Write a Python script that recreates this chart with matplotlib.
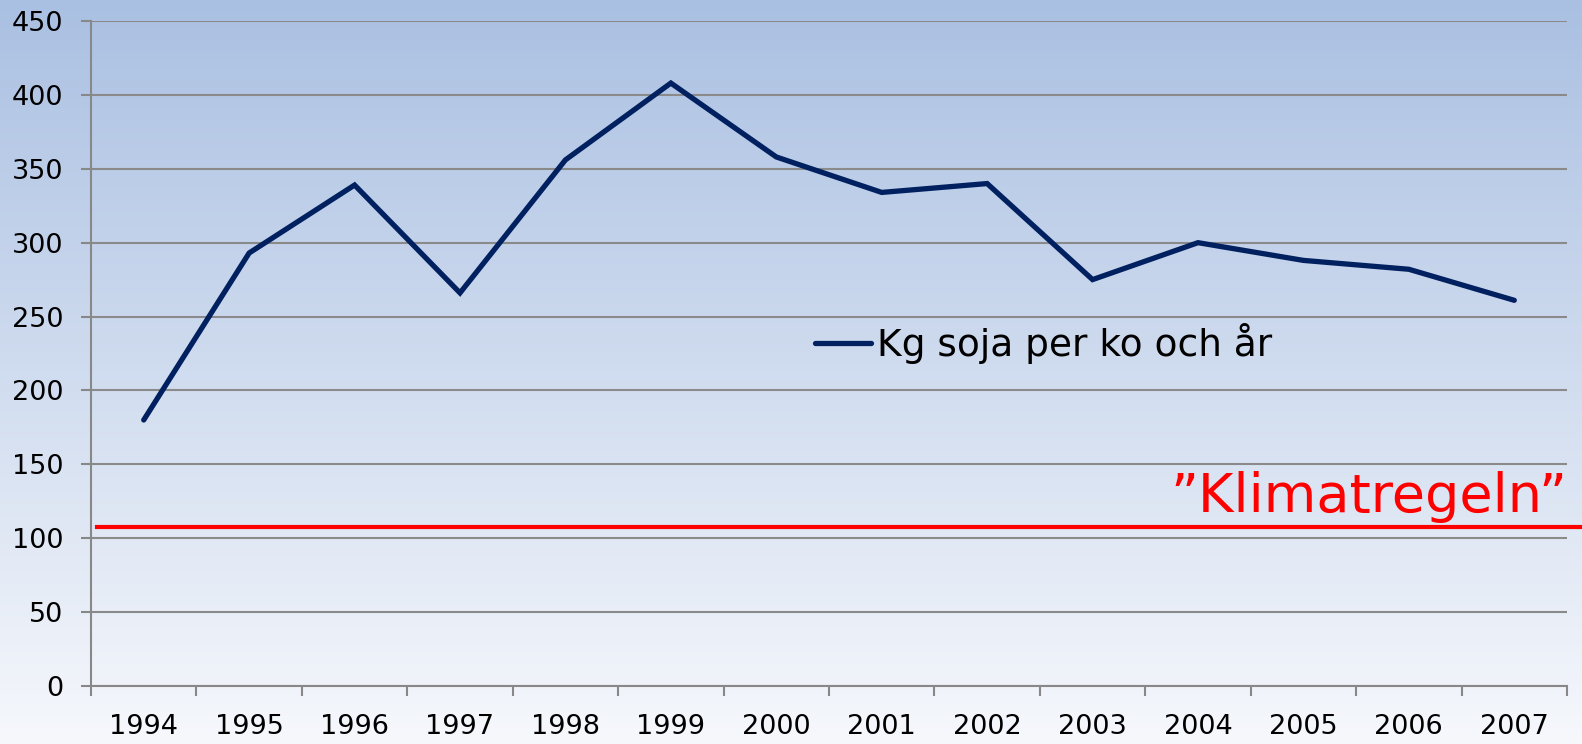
import numpy as np
import matplotlib
matplotlib.use("Agg")
import matplotlib.pyplot as plt
from matplotlib.colors import LinearSegmentedColormap

years = ["1994", "1995", "1996", "1997", "1998", "1999", "2000",
         "2001", "2002", "2003", "2004", "2005", "2006", "2007"]
soja = [180, 293, 339, 266, 356, 408, 358, 334, 340, 275, 300, 288, 282, 261]
series_label = "Kg soja per ko och år"
klimat_value = 107.5
klimat_label = "\u201dKlimatregeln\u201d"

W, H, DPI = 1582, 744, 100
fig = plt.figure(figsize=(W / DPI, H / DPI), dpi=DPI)

# gradient background
bg = fig.add_axes([0, 0, 1, 1], zorder=-10)
cmap = LinearSegmentedColormap.from_list("bg", ["#aac0e2", "#f6f8fc"])
grad = np.linspace(0, 1, 256).reshape(-1, 1)
bg.imshow(grad, aspect="auto", cmap=cmap, extent=[0, 1, 0, 1], origin="upper")
bg.set_axis_off()

left, right, top, bottom = 91, 1567, 21, 686
ax = fig.add_axes([left / W, 1 - bottom / H, (right - left) / W, (bottom - top) / H])
ax.patch.set_alpha(0)

x = np.arange(len(years)) + 0.5
ax.plot(x, soja, color="#002060", lw=3.8, solid_joinstyle="miter",
        solid_capstyle="round", zorder=5)

ax.set_xlim(0, len(years))
ax.set_ylim(0, 450)
ax.set_yticks(np.arange(0, 451, 50))
ax.set_xticks(np.arange(0, len(years) + 1))
ax.set_xticklabels([])
ax.set_xticks(x, minor=True)
ax.set_xticklabels(years, minor=True)
ax.tick_params(axis="x", which="minor", length=0, pad=20, labelsize=19.5)
ax.tick_params(axis="x", which="major", length=7, width=1.5, color="#888888", direction="out")
ax.tick_params(axis="y", length=7, width=1.5, color="#888888", labelsize=19.5, pad=13)
ax.yaxis.grid(True, color="#8a8a8a", lw=1.5)
ax.set_axisbelow(True)
for s in ["top", "right"]:
    ax.spines[s].set_visible(False)
for s in ["left", "bottom"]:
    ax.spines[s].set_color("#888888")
    ax.spines[s].set_linewidth(1.5)

# red rule line extending past the plot
ax.axhline(klimat_value, xmin=6 / (right - left), xmax=(W - left) / (right - left),
           color="#ff0000", lw=3, clip_on=False, zorder=6)
ax.text(1.0, klimat_value + 3, klimat_label, transform=ax.get_yaxis_transform(),
        ha="right", va="bottom", color="#ff0000", fontsize=39)

leg = ax.legend([series_label], loc="center left",
                bbox_to_anchor=((815 - left) / (right - left), 1 - (344 - top) / (bottom - top)),
                frameon=False, fontsize=27, handlelength=1.5, handletextpad=0.15,
                borderaxespad=0, borderpad=0)

fig.savefig("out.png", dpi=DPI)
